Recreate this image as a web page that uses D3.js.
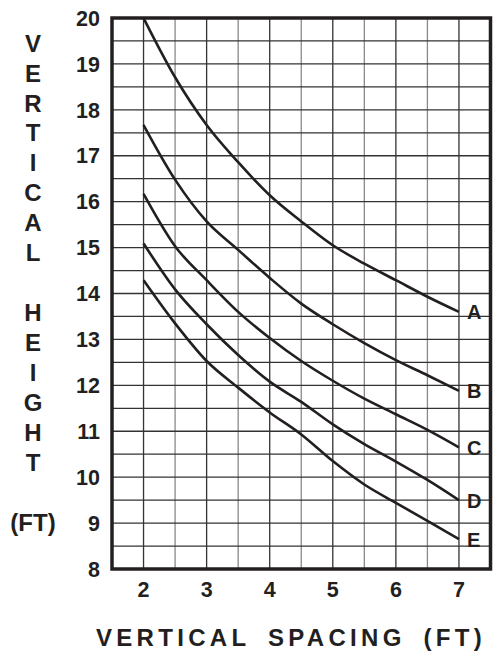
<!DOCTYPE html>
<html>
<head>
<meta charset="utf-8">
<script src="https://cdn.jsdelivr.net/npm/d3@7"></script>
<style>
  body { margin: 0; background: #fff; }
  svg { display: block; font-family: "Liberation Sans", Arial, sans-serif; font-weight: bold; }
</style>
</head>
<body>
<svg id="chart" width="495" height="651"></svg>
<script>
// spacing values (ft)
const spacing = [2, 2.5, 3, 3.5, 4, 4.5, 5, 5.5, 6, 6.5, 7];
// vertical height (ft) for each curve
const curveA = [20, 18.71, 17.67, 16.86, 16.14, 15.57, 15.05, 14.65, 14.29, 13.93, 13.6];
const curveB = [17.67, 16.48, 15.57, 14.95, 14.34, 13.78, 13.33, 12.92, 12.55, 12.22, 11.88];
const curveC = [16.17, 15.03, 14.29, 13.6, 13.03, 12.53, 12.1, 11.71, 11.37, 11.03, 10.65];
const curveD = [15.09, 14.09, 13.33, 12.66, 12.08, 11.64, 11.15, 10.72, 10.34, 9.94, 9.5];
const curveE = [14.29, 13.35, 12.53, 11.95, 11.41, 10.93, 10.35, 9.84, 9.44, 9.05, 8.65];
const curveNames = ["A", "B", "C", "D", "E"];
const xTicks = [2, 3, 4, 5, 6, 7];
const yTicks = [8, 9, 10, 11, 12, 13, 14, 15, 16, 17, 18, 19, 20];
const yTitle = ["V","E","R","T","I","C","A","L","","H","E","I","G","H","T","","(FT)"];
const xTitle = "VERTICAL SPACING (FT)";

const curves = [curveA, curveB, curveC, curveD, curveE].map((vals, i) => ({
  name: curveNames[i],
  points: vals.map((v, j) => ({ x: spacing[j], y: v }))
}));

const svg = d3.select("#chart");
const ink = "#231f20";

const x = d3.scaleLinear().domain([1.5, 7.5]).range([112, 490.5]);
const y = d3.scaleLinear().domain([8, 20]).range([569, 18]);

// grid
const grid = svg.append("g");
grid.selectAll(".vgrid")
  .data(d3.range(2, 7.01, 0.5))
  .enter().append("line")
    .attr("class", "vgrid")
    .attr("x1", d => x(d)).attr("x2", d => x(d))
    .attr("y1", y(20)).attr("y2", y(8))
    .attr("stroke", d => d % 1 === 0 ? "#333" : "#8a8a8a")
    .attr("stroke-width", 1.3);
grid.selectAll(".hgrid")
  .data(d3.range(8.5, 19.51, 0.5))
  .enter().append("line")
    .attr("class", "hgrid")
    .attr("x1", x(1.5)).attr("x2", x(7.5))
    .attr("y1", d => y(d)).attr("y2", d => y(d))
    .attr("stroke", "#333")
    .attr("stroke-width", 1.3);

// frame
svg.append("rect")
  .attr("x", x(1.5)).attr("y", y(20))
  .attr("width", x(7.5) - x(1.5))
  .attr("height", y(8) - y(20))
  .attr("fill", "none")
  .attr("stroke", ink)
  .attr("stroke-width", 3.5);

// curves
const line = d3.line().x(d => x(d.x)).y(d => y(d.y)).curve(d3.curveMonotoneX);
svg.selectAll(".curve")
  .data(curves)
  .enter().append("path")
    .attr("class", "curve")
    .attr("d", d => line(d.points))
    .attr("fill", "none")
    .attr("stroke", ink)
    .attr("stroke-width", 2.6);

svg.selectAll(".clabel")
  .data(curves)
  .enter().append("text")
    .attr("class", "clabel")
    .attr("x", d => x(7) + 8)
    .attr("y", d => y(d.points[d.points.length - 1].y))
    .attr("dy", "0.38em")
    .attr("font-size", 20)
    .attr("fill", ink)
    .text(d => d.name);

// tick labels
svg.selectAll(".ytick")
  .data(yTicks)
  .enter().append("text")
    .attr("class", "ytick")
    .attr("x", 100)
    .attr("y", d => y(d))
    .attr("dy", "0.36em")
    .attr("text-anchor", "end")
    .attr("font-size", 21.5)
    .attr("fill", ink)
    .text(d => d);

svg.selectAll(".xtick")
  .data(xTicks)
  .enter().append("text")
    .attr("class", "xtick")
    .attr("x", d => x(d))
    .attr("y", 597)
    .attr("text-anchor", "middle")
    .attr("font-size", 21.5)
    .attr("fill", ink)
    .text(d => d);

// axis titles
svg.selectAll(".ytitle")
  .data(yTitle)
  .enter().append("text")
    .attr("class", "ytitle")
    .attr("x", 33)
    .attr("y", (d, i) => 43 + i * 29.94)
    .attr("dy", "0.36em")
    .attr("text-anchor", "middle")
    .attr("font-size", 24)
    .attr("fill", ink)
    .text(d => d);

svg.append("text")
  .attr("x", 96)
  .attr("y", 646)
  .attr("font-size", 24)
  .attr("letter-spacing", 4.3)
  .attr("word-spacing", 7)
  .attr("fill", ink)
  .text(xTitle);
</script>
</body>
</html>
